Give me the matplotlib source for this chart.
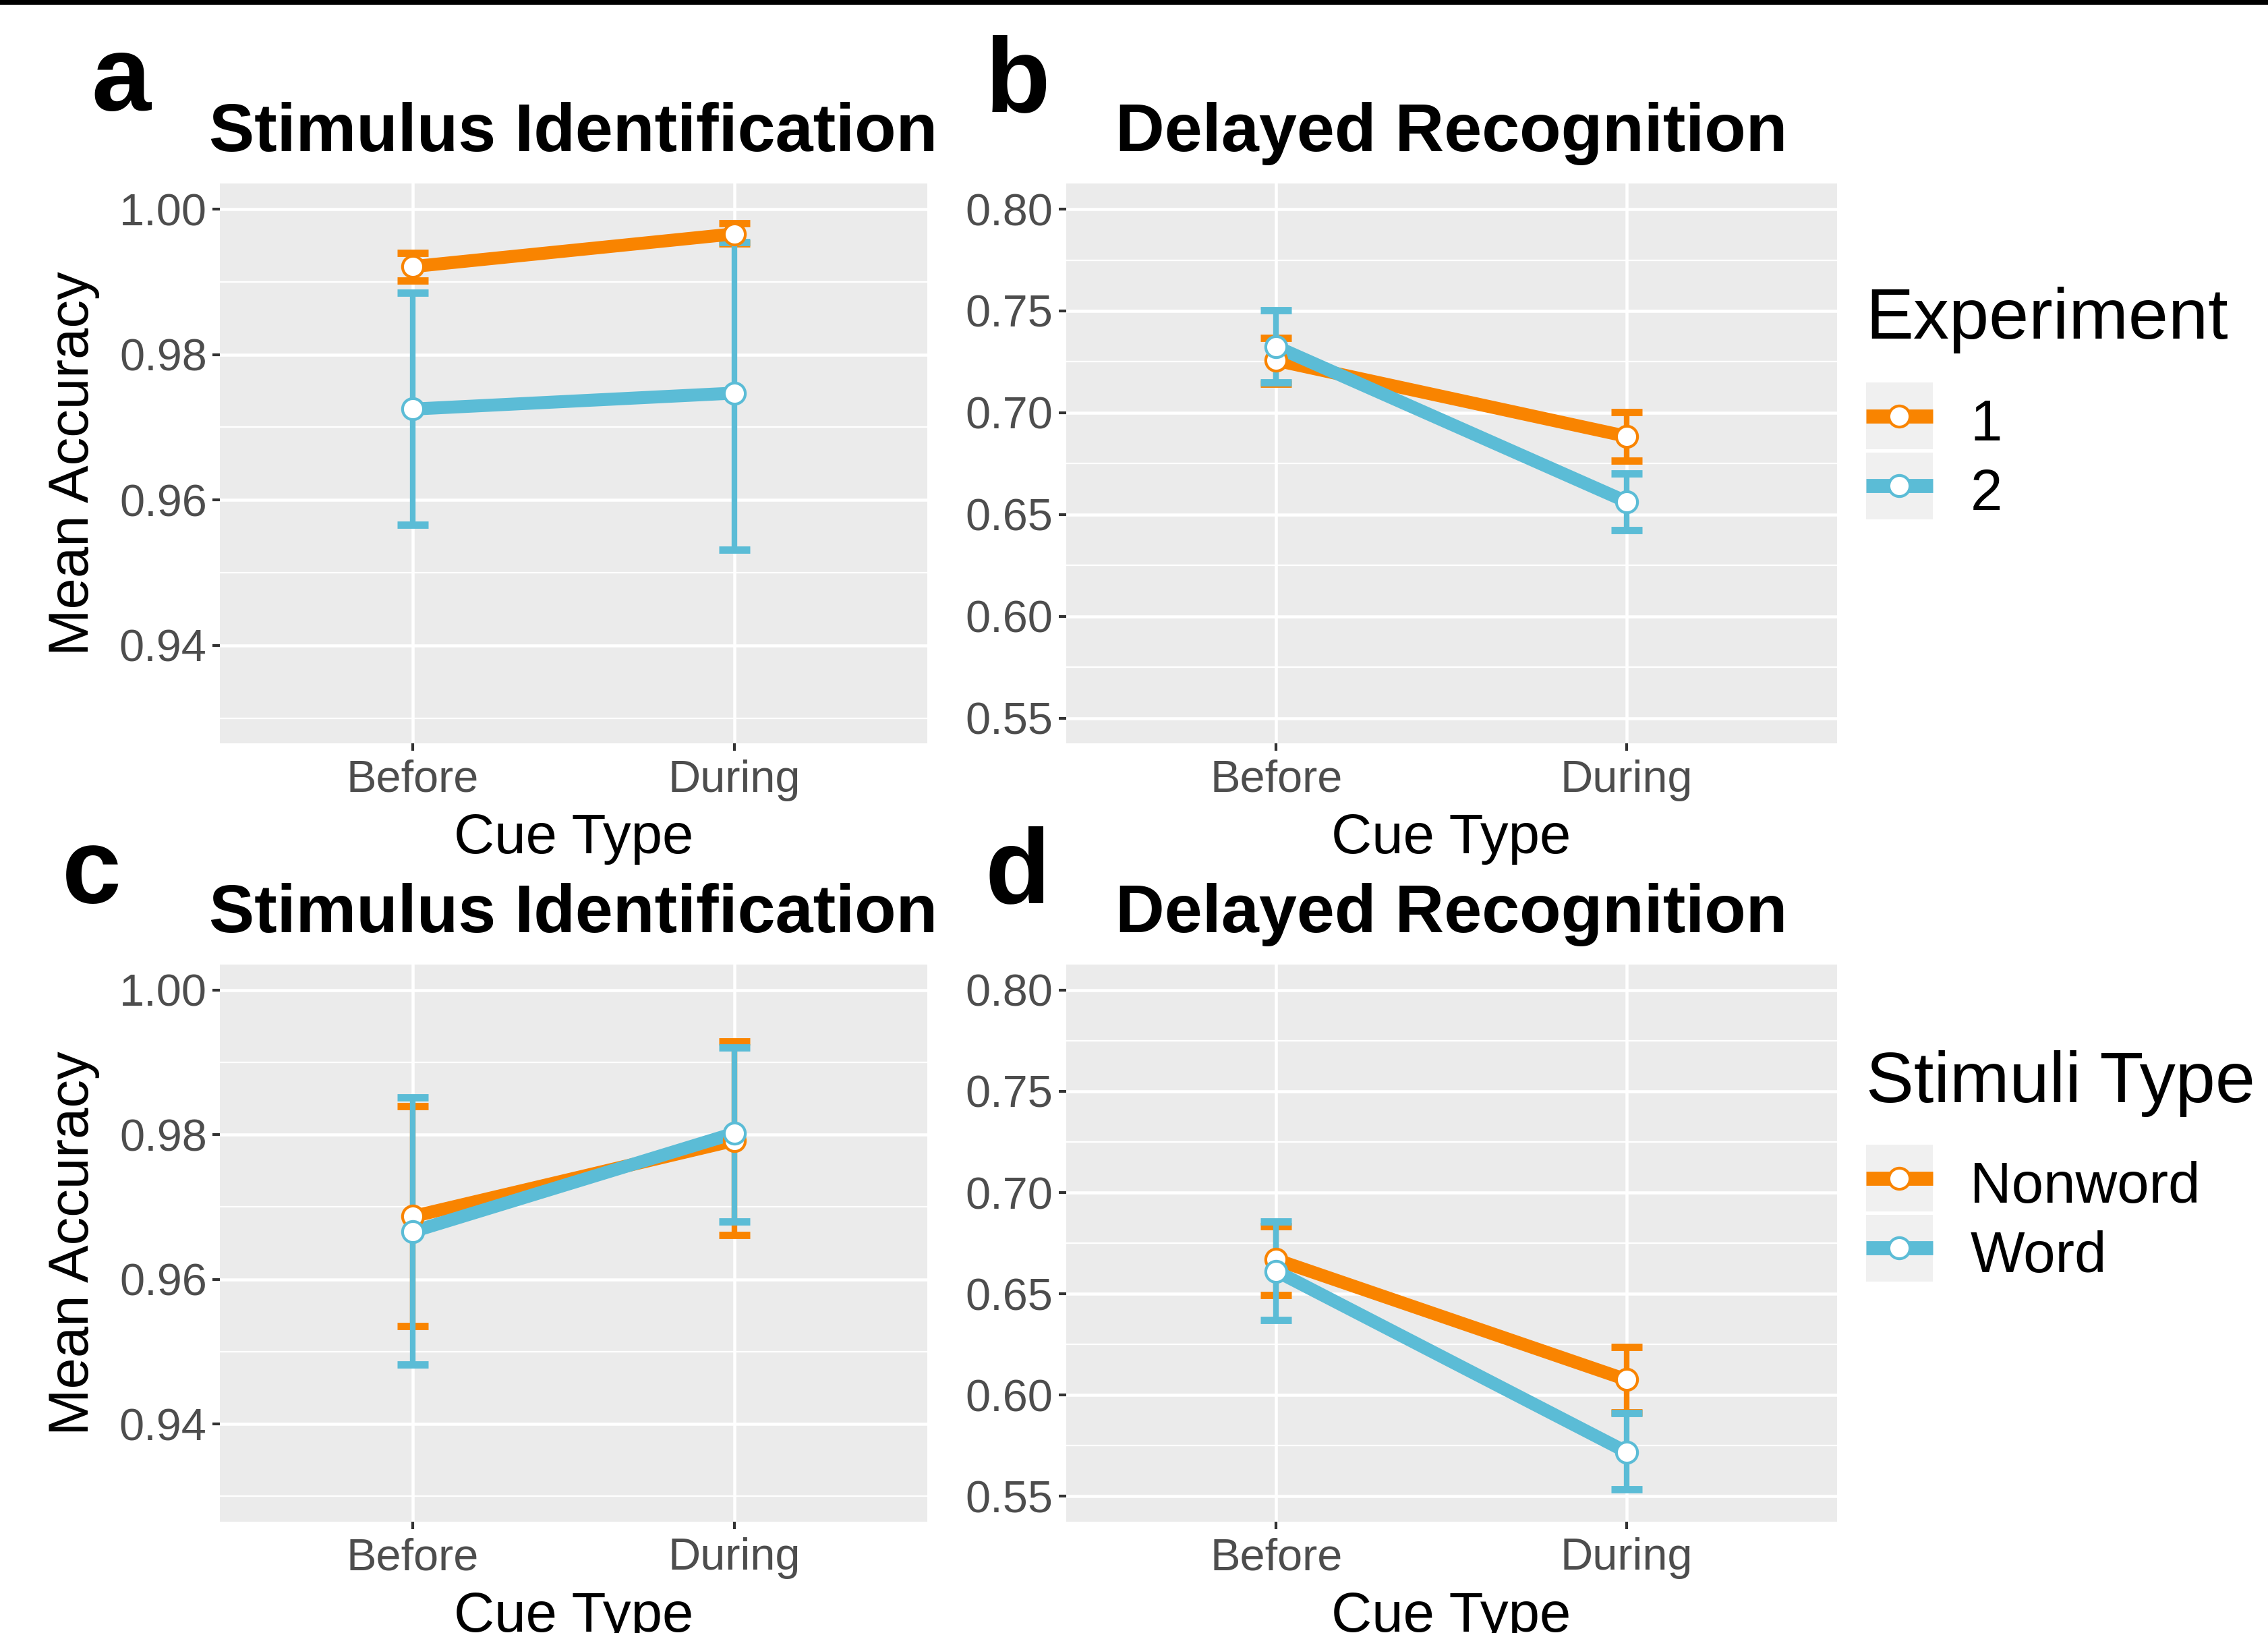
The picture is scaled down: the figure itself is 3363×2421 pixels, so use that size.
import numpy as np
import matplotlib
matplotlib.use('Agg')
import matplotlib.pyplot as plt
from matplotlib.lines import Line2D
from matplotlib.patches import Rectangle
from matplotlib.legend_handler import HandlerLine2D

plt.rcParams['font.family'] = ['Liberation Sans', 'DejaVu Sans']

cue_levels = ["Before", "During"]

# panel a: Stimulus Identification by Experiment
a_mean_1 = [0.9921, 0.9966]
a_lo_1 = [0.9902, 0.9953]
a_hi_1 = [0.9940, 0.9981]
a_mean_2 = [0.9725, 0.9747]
a_lo_2 = [0.9566, 0.9532]
a_hi_2 = [0.9885, 0.9955]

# panel b: Delayed Recognition by Experiment
b_mean_1 = [0.7257, 0.6884]
b_lo_1 = [0.7143, 0.6763]
b_hi_1 = [0.7367, 0.7004]
b_mean_2 = [0.7324, 0.6563]
b_lo_2 = [0.7150, 0.6424]
b_hi_2 = [0.7503, 0.6702]

# panel c: Stimulus Identification by Stimuli Type
c_mean_nw = [0.9687, 0.9792]
c_lo_nw = [0.9535, 0.9661]
c_hi_nw = [0.9839, 0.9929]
c_mean_w = [0.9666, 0.9802]
c_lo_w = [0.9482, 0.9680]
c_hi_w = [0.9852, 0.9921]

# panel d: Delayed Recognition by Stimuli Type
d_mean_nw = [0.6669, 0.6076]
d_lo_nw = [0.6494, 0.5914]
d_hi_nw = [0.6834, 0.6238]
d_mean_w = [0.6612, 0.5719]
d_lo_w = [0.6371, 0.5534]
d_hi_w = [0.6858, 0.5911]

exp_labels = ["1", "2"]
stim_labels = ["Nonword", "Word"]

ident_ticks = [0.94, 0.96, 0.98, 1.00]
ident_minor = [0.93, 0.95, 0.97, 0.99]
recog_ticks = [0.55, 0.60, 0.65, 0.70, 0.75, 0.80]
recog_minor = [0.575, 0.625, 0.675, 0.725, 0.775]

ORANGE = '#F98400'
BLUE = '#5BBCD6'
colors = [ORANGE, BLUE]


def draw_panel(ax, means, los, his, ylim, yticks, yminor, title, ylabel=None):
    ax.set_facecolor('#EBEBEB')
    for s in ax.spines.values():
        s.set_visible(False)
    x = np.arange(len(cue_levels))
    for i in range(len(means)):
        m = np.array(means[i])
        err = [m - np.array(los[i]), np.array(his[i]) - m]
        ax.errorbar(x, m, yerr=err, fmt='none', ecolor=colors[i], elinewidth=2,
                    capsize=5.6, capthick=2.6, zorder=2 + i * 0.1)
    for i in range(len(means)):
        ax.plot(x, means[i], color=colors[i], lw=4.6, solid_capstyle='butt', zorder=3 + i * 0.1)
    for i in range(len(means)):
        ax.plot(x, means[i], 'o', ms=7.5, mfc='white', mec=colors[i], mew=1, zorder=4 + i * 0.1)

    lo, hi = ylim
    pad = 0.05 * (hi - lo)
    ax.set_ylim(lo - pad, hi + pad)
    ax.set_xlim(-0.6, len(cue_levels) - 1 + 0.6)
    ax.set_xticks(x)
    ax.set_xticklabels(cue_levels)
    ax.set_yticks(yticks)
    ax.set_yticklabels([f'{v:.2f}' for v in yticks])
    ax.set_yticks(yminor, minor=True)
    ax.grid(which='major', color='white', lw=1.1)
    ax.grid(which='minor', axis='y', color='white', lw=0.55)
    ax.set_axisbelow(True)
    ax.tick_params(which='major', length=2.6, width=1, color='#333333',
                   labelsize=16, labelcolor='#4D4D4D', pad=2)
    ax.tick_params(axis='x', which='major', pad=3)
    ax.tick_params(which='minor', length=0)
    ax.set_title(title, fontsize=24.2, fontweight='bold', pad=11.5)
    ax.set_xlabel('Cue Type', fontsize=20, labelpad=4)
    if ylabel:
        ax.set_ylabel(ylabel, fontsize=20, labelpad=7)


class KeyHandler(HandlerLine2D):
    def create_artists(self, legend, orig_handle, xdescent, ydescent, width, height, fontsize, trans):
        bg = Rectangle((-xdescent, -ydescent), width, height + ydescent, facecolor='#F0F0F0',
                       edgecolor='none', transform=trans)
        arts = super().create_artists(legend, orig_handle, xdescent, ydescent, width, height, fontsize, trans)
        return [bg] + list(arts)


def add_legend(fig, title, labels, title_y, key_top):
    fig.text(0.8227, title_y, title, fontsize=25.5, va='baseline', ha='left')
    handles = [Line2D([], [], color=c, lw=5, marker='o', ms=7.5, mfc='white', mec=c, mew=1,
                      solid_capstyle='butt') for c in colors]
    fig.legend(handles, labels, loc='upper left', bbox_to_anchor=(0.8227, key_top),
               frameon=False, fontsize=20.5, handlelength=1.16, handleheight=1.16,
               handletextpad=0.65, labelspacing=0.16, borderpad=0, borderaxespad=0,
               handler_map={Line2D: KeyHandler(numpoints=1)})


fig = plt.figure(figsize=(3363 / 300, 2421 / 300), dpi=300)

ax_a = fig.add_axes([0.0969, 0.5447, 0.3119, 0.3428])
ax_b = fig.add_axes([0.4700, 0.5447, 0.3399, 0.3428])
ax_c = fig.add_axes([0.0969, 0.0682, 0.3119, 0.3410])
ax_d = fig.add_axes([0.4700, 0.0682, 0.3399, 0.3410])

draw_panel(ax_a, [a_mean_1, a_mean_2], [a_lo_1, a_lo_2], [a_hi_1, a_hi_2],
           (0.93, 1.00), ident_ticks, ident_minor, 'Stimulus Identification', 'Mean Accuracy')
draw_panel(ax_b, [b_mean_1, b_mean_2], [b_lo_1, b_lo_2], [b_hi_1, b_hi_2],
           (0.55, 0.80), recog_ticks, recog_minor, 'Delayed Recognition')
draw_panel(ax_c, [c_mean_nw, c_mean_w], [c_lo_nw, c_lo_w], [c_hi_nw, c_hi_w],
           (0.93, 1.00), ident_ticks, ident_minor, 'Stimulus Identification', 'Mean Accuracy')
draw_panel(ax_d, [d_mean_nw, d_mean_w], [d_lo_nw, d_lo_w], [d_hi_nw, d_hi_w],
           (0.55, 0.80), recog_ticks, recog_minor, 'Delayed Recognition')

add_legend(fig, 'Experiment', exp_labels, 0.7927, 0.7600)
add_legend(fig, 'Stimuli Type', stim_labels, 0.3251, 0.2932)

# panel letters
fig.text(0.0402, 0.9327, 'a', fontsize=38, fontweight='bold', va='baseline')
fig.text(0.4343, 0.9318, 'b', fontsize=38, fontweight='bold', va='baseline')
fig.text(0.0274, 0.4473, 'c', fontsize=38, fontweight='bold', va='baseline')
fig.text(0.4343, 0.4473, 'd', fontsize=38, fontweight='bold', va='baseline')

# thin black border at the top of the image
fig.add_artist(Rectangle((0, 0.9972), 1, 0.0028, transform=fig.transFigure,
                         facecolor='black', edgecolor='none'))

fig.savefig('out.png', dpi=300)
